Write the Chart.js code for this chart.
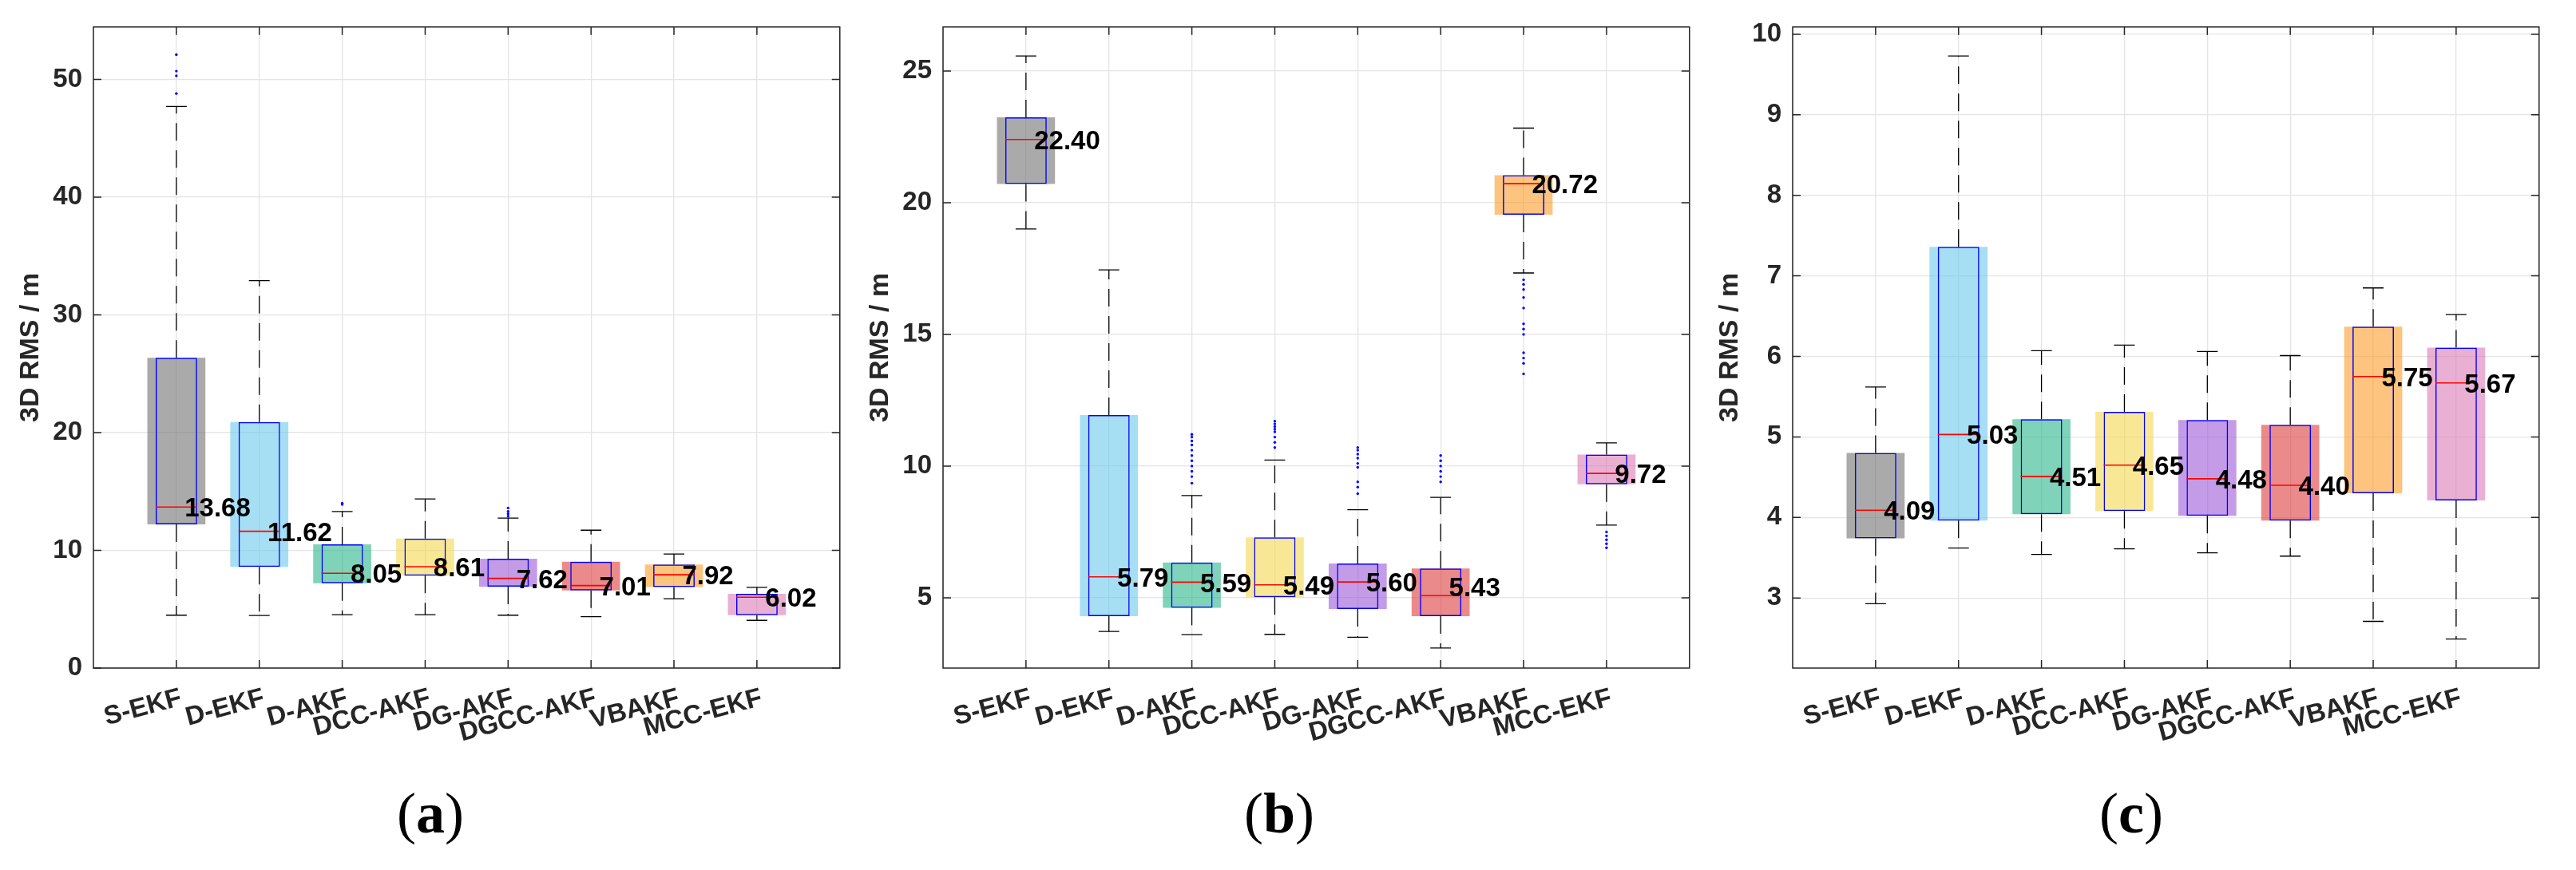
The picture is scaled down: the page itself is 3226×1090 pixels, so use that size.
<!DOCTYPE html>
<html>
<head>
<meta charset="utf-8">
<script src="https://cdn.jsdelivr.net/npm/chart.js@4.4.1/dist/chart.umd.min.js"></script>
<style>
  body { margin: 0; background: #fff; width: 3226px; height: 1090px; position: relative; overflow: hidden; }
  .panel { position: absolute; top: 0; }
  .caption { position: absolute; top: 974px; width: 200px; margin-left: -100px; text-align: center;
             font-family: 'Liberation Serif', 'DejaVu Serif', serif; font-size: 72px; line-height: 90px; color: #000; }
</style>
</head>
<body>
<canvas id="chartA" class="panel" width="1080" height="1000" style="left:0px"></canvas>
<canvas id="chartB" class="panel" width="1080" height="1000" style="left:1064px"></canvas>
<canvas id="chartC" class="panel" width="1080" height="1000" style="left:2128px"></canvas>
<div class="caption" style="left:539px">(<b>a</b>)</div>
<div class="caption" style="left:1602px">(<b>b</b>)</div>
<div class="caption" style="left:2669px">(<b>c</b>)</div>
<script>
// Box plot data

const categories = ['S-EKF', 'D-EKF', 'D-AKF', 'DCC-AKF', 'DG-AKF', 'DGCC-AKF', 'VBAKF', 'MCC-EKF'];

const fillColors = [
    'rgba(113, 113, 113, 0.6)', // gray
    'rgba(107, 200, 237, 0.6)', // light blue
    'rgba(42, 182, 137, 0.6)',  // teal
    'rgba(243, 217, 80, 0.6)',  // yellow
    'rgba(157, 88, 213, 0.6)',  // purple
    'rgba(222, 60, 60, 0.6)',   // red
    'rgba(252, 157, 42, 0.6)',  // orange
    'rgba(220, 123, 182, 0.6)'  // pink
];

// panel (a)
const aLower = [4.49, 4.46, 4.53, 4.53, 4.49, 4.36, 5.89, 4.05];
const aQ1 = [12.2, 8.6, 7.2, 7.85, 6.91, 6.6, 6.88, 4.49];
const aMedian = [13.68, 11.62, 8.05, 8.61, 7.62, 7.01, 7.92, 6.02];
const aQ3 = [26.35, 20.9, 10.5, 11.0, 9.28, 9.03, 8.8, 6.3];
const aUpper = [47.7, 32.9, 13.3, 14.36, 12.73, 11.71, 9.69, 6.86];
const aOutliers = [[52.1, 50.7, 50.3, 48.8], [], [13.9, 14.0], [], [12.9, 13.1, 13.3, 13.6], [], [], []];

// panel (b)
const bLower = [19.0, 3.72, 3.6, 3.61, 3.5, 3.09, 17.33, 7.76];
const bQ1 = [20.71, 4.3, 4.62, 5.02, 4.57, 4.3, 19.54, 9.31];
const bMedian = [22.4, 5.79, 5.59, 5.49, 5.6, 5.08, 20.72, 9.72];
const bLabel = [22.4, 5.79, 5.59, 5.49, 5.6, 5.43, 20.72, 9.72];
const bQ3 = [23.24, 11.94, 6.34, 7.29, 6.3, 6.11, 21.04, 10.44];
const bUpper = [25.57, 17.45, 8.88, 10.23, 8.34, 8.81, 22.83, 10.88];
const bOutliers = [
    [],
    [],
    [11.2, 11.1, 10.95, 10.8, 10.6, 10.4, 10.2, 10.0, 9.8, 9.6, 9.35],
    [11.7, 11.6, 11.5, 11.4, 11.3, 11.1, 10.9, 10.7],
    [10.7, 10.6, 10.45, 10.3, 10.1, 9.95, 9.4, 9.2, 8.95],
    [10.4, 10.2, 10.0, 9.8, 9.6, 9.4],
    [17.07, 16.9, 16.7, 16.4, 16.0, 15.4, 15.2, 15.0, 14.3, 14.1, 13.9, 13.5],
    [7.5, 7.35, 7.2, 7.05, 6.9]
];

// panel (c)
const cLower = [2.93, 3.62, 3.54, 3.61, 3.56, 3.52, 2.71, 2.49];
const cQ1 = [3.74, 3.96, 4.04, 4.08, 4.02, 3.96, 4.3, 4.21];
const cMedian = [4.09, 5.03, 4.51, 4.65, 4.48, 4.4, 5.75, 5.67];
const cQ3 = [4.8, 7.36, 5.22, 5.31, 5.21, 5.15, 6.37, 6.11];
const cUpper = [5.62, 9.73, 6.07, 6.14, 6.06, 6.01, 6.85, 6.52];
const cOutliers = [[], [], [], [], [], [], [], []];

const FONT = "'Liberation Sans', Arial, sans-serif";
const AXIS_COLOR = '#262626';
const GRID_COLOR = '#e4e4e4';

Chart.defaults.font.family = FONT;

function boxPartsPlugin(s) {
    return {
        id: 'boxParts',
        afterDatasetsDraw(chart) {
            const {ctx, scales: {x, y}} = chart;
            const unit = x.getPixelForValue(1) - x.getPixelForValue(0);
            ctx.save();
            s.median.forEach((m, i) => {
                const cx = x.getPixelForValue(i + 1);
                const yq1 = y.getPixelForValue(s.q1[i]);
                const yq3 = y.getPixelForValue(s.q3[i]);
                const yLo = y.getPixelForValue(s.lower[i]);
                const yHi = y.getPixelForValue(s.upper[i]);

                // dashed whiskers, drawn from the box outwards
                ctx.strokeStyle = '#000';
                ctx.lineWidth = 1.3;
                ctx.setLineDash([22, 12]);
                ctx.beginPath();
                ctx.moveTo(cx, yq3);
                ctx.lineTo(cx, yHi);
                ctx.stroke();
                ctx.beginPath();
                ctx.moveTo(cx, yq1);
                ctx.lineTo(cx, yLo);
                ctx.stroke();

                // caps
                ctx.setLineDash([]);
                const cap = unit * 0.125;
                ctx.beginPath();
                ctx.moveTo(cx - cap, yHi);
                ctx.lineTo(cx + cap, yHi);
                ctx.moveTo(cx - cap, yLo);
                ctx.lineTo(cx + cap, yLo);
                ctx.stroke();

                // median
                const ym = y.getPixelForValue(m);
                ctx.strokeStyle = '#ff0000';
                ctx.lineWidth = 1.6;
                ctx.beginPath();
                ctx.moveTo(cx - unit * 0.25, ym);
                ctx.lineTo(cx + unit * 0.25, ym);
                ctx.stroke();
            });

            // value labels
            ctx.fillStyle = '#000';
            ctx.font = 'bold 33px ' + FONT;
            ctx.textAlign = 'left';
            ctx.textBaseline = 'middle';
            s.labels.forEach((v, i) => {
                const cx = x.getPixelForValue(i + 1);
                ctx.fillText(v.toFixed(2), cx + unit * 0.1, y.getPixelForValue(v) + 3);
            });
            ctx.restore();
        },
        afterDraw(chart) {
            // box frame with inward tick marks, MATLAB style
            const {ctx, chartArea: a, scales: {x, y}} = chart;
            ctx.save();
            ctx.strokeStyle = AXIS_COLOR;
            ctx.lineWidth = 1.5;
            ctx.strokeRect(a.left, a.top, a.right - a.left, a.bottom - a.top);
            ctx.beginPath();
            categories.forEach((c, i) => {
                const px = x.getPixelForValue(i + 1);
                ctx.moveTo(px, a.bottom);
                ctx.lineTo(px, a.bottom - 10);
                ctx.moveTo(px, a.top);
                ctx.lineTo(px, a.top + 10);
            });
            y.ticks.forEach(t => {
                const py = y.getPixelForValue(t.value);
                ctx.moveTo(a.left, py);
                ctx.lineTo(a.left + 10, py);
                ctx.moveTo(a.right, py);
                ctx.lineTo(a.right - 10, py);
            });
            ctx.stroke();
            ctx.restore();
        }
    };
}

function buildChart(id, s) {
    const boxes = s.q1.map((v, i) => ({x: i + 1, y: [v, s.q3[i]]}));
    const outlierPoints = [];
    s.outliers.forEach((list, i) => list.forEach(v => outlierPoints.push({x: i + 1, y: v})));

    return new Chart(document.getElementById(id), {
        type: 'bar',
        data: {
            datasets: [
                {
                    data: boxes,
                    backgroundColor: fillColors,
                    borderWidth: 0,
                    grouped: false,
                    categoryPercentage: 1,
                    barPercentage: 0.7,
                    order: 3
                },
                {
                    data: boxes,
                    backgroundColor: 'rgba(0, 0, 0, 0)',
                    borderColor: '#0000ff',
                    borderWidth: 1.5,
                    borderSkipped: false,
                    grouped: false,
                    categoryPercentage: 1,
                    barPercentage: 0.5,
                    order: 2
                },
                {
                    type: 'scatter',
                    data: outlierPoints,
                    pointRadius: 1.7,
                    pointBackgroundColor: '#0000ff',
                    pointBorderWidth: 0,
                    order: 1
                }
            ]
        },
        options: {
            responsive: false,
            animation: false,
            layout: {
                padding: { top: 31, left: 0, right: 6, bottom: 0 }
            },
            plugins: {
                legend: { display: false },
                tooltip: { enabled: false }
            },
            scales: {
                x: {
                    type: 'linear',
                    min: 0,
                    max: 9,
                    offset: false,
                    grid: { color: GRID_COLOR, lineWidth: 1.3, drawTicks: false, offset: false },
                    border: { display: false },
                    ticks: {
                        stepSize: 1,
                        autoSkip: false,
                        minRotation: 15,
                        maxRotation: 15,
                        padding: 18,
                        labelOffset: 6,
                        color: AXIS_COLOR,
                        font: { size: 33, weight: 'bold' },
                        callback: v => categories[v - 1] || ''
                    },
                    afterFit: scale => { scale.height = 163; }
                },
                y: {
                    type: 'linear',
                    min: s.yMin,
                    max: s.yMax,
                    grid: { color: GRID_COLOR, lineWidth: 1.3, drawTicks: false },
                    border: { display: false },
                    ticks: {
                        stepSize: s.yStep,
                        includeBounds: false,
                        padding: 14,
                        color: AXIS_COLOR,
                        font: { size: 33, weight: 'bold' }
                    },
                    title: {
                        display: true,
                        text: '3D RMS / m',
                        color: AXIS_COLOR,
                        font: { size: 34, weight: 'bold' },
                        padding: { top: 18, bottom: 0 }
                    },
                    afterFit: scale => { scale.width = 117; }
                }
            }
        },
        plugins: [boxPartsPlugin(s)]
    });
}

buildChart('chartA', {
    lower: aLower, q1: aQ1, median: aMedian, q3: aQ3, upper: aUpper,
    labels: aMedian, outliers: aOutliers, yMin: 0, yMax: 54.45, yStep: 10
});
buildChart('chartB', {
    lower: bLower, q1: bQ1, median: bMedian, q3: bQ3, upper: bUpper,
    labels: bLabel, outliers: bOutliers, yMin: 2.33, yMax: 26.67, yStep: 5
});
buildChart('chartC', {
    lower: cLower, q1: cQ1, median: cMedian, q3: cQ3, upper: cUpper,
    labels: cMedian, outliers: cOutliers, yMin: 2.13, yMax: 10.09, yStep: 1
});
</script>
</body>
</html>
